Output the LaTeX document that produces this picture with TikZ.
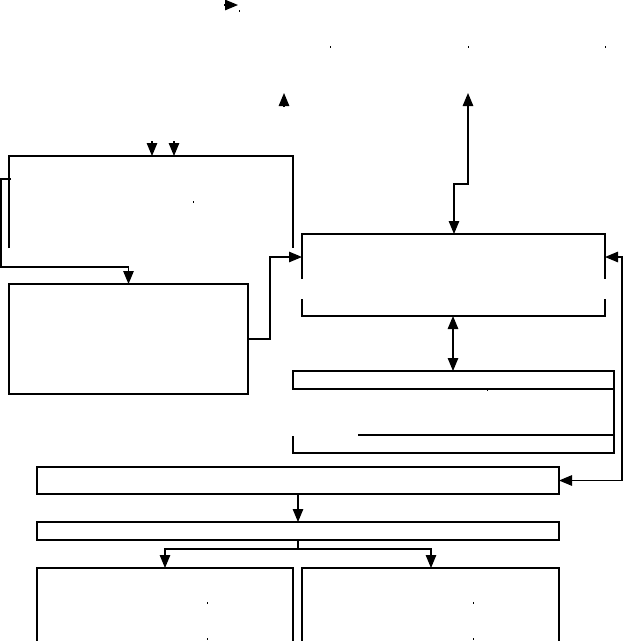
\documentclass[tikz,border=0pt]{standalone}
\usetikzlibrary{arrows.meta}
\begin{document}
\begin{tikzpicture}[x=1pt,y=-1pt,line width=1.2pt,
  >={Triangle[length=13pt,width=10.5pt]},
  box/.style={draw,rectangle,inner sep=0pt,outer sep=0pt,anchor=north west},
  speck/.style={fill=black}]
\useasboundingbox (0,0) rectangle (623,641);

% complete boxes
\node[box,minimum width=239pt,minimum height=110pt] (E) at (9,284) {};
\node[box,minimum width=321pt,minimum height=18pt] (J) at (293,371) {};
\node[box,minimum width=522pt,minimum height=27pt] (M) at (37,467) {};
\node[box,minimum width=522pt,minimum height=18pt] (O) at (37,522) {};

% partial box top left
\coordinate (Tnw) at (9,156); \coordinate (Tne) at (293,156);
\draw (9,248) -- (Tnw) -- (Tne) -- (293,248);

% partial box G
\coordinate (Gnw) at (302,234); \coordinate (Gne) at (605,234);
\coordinate (Gsw) at (302,316); \coordinate (Gse) at (605,316);
\coordinate (Gw) at (302,257); \coordinate (Ge) at (605,257);
\coordinate (Gn) at (454,234); \coordinate (Gs) at (453,316);
\draw (302,279) -- (Gnw) -- (Gne) -- (605,279);
\draw (302,299) -- (Gsw) -- (Gse) -- (605,299);

% partial box K below J
\draw (J.south east) -- (614,453) -- (293,453) -- (293,436);
\draw (358,435) -- (614,435);

% bottom boxes (open at the bottom)
\coordinate (Qn) at (165,568); \coordinate (Rn) at (431,568);
\draw (37,645) -- (37,568) -- (293,568) -- (293,645);
\draw (302,645) -- (302,568) -- (559,568) -- (559,645);

% connectors
\draw[->] (11,179) -- (1,179) -- (1,267) -| (E.north);
\draw[->] (E.east) -- ++(22,0) |- (Gw);
\draw[<->] (468,93) -- (468,184) -- (454,184) -- (Gn);
\draw[<->] (Gs) -- (Gs |- J.north);
\draw[<->] (Ge) -- (622,257) |- (M.east);
\draw[->] (M.south) -- (O.north);
\draw (O.south) -- ++(0,9) coordinate (split);
\draw[->] (split) -| (Qn);
\draw[->] (split) -| (Rn);

% lone arrowheads
\draw[->] (224,5) -- (238,5);
\draw[->] (284,107) -- (284,93);
\draw[->] (152,141) -- (152,156);
\draw[->] (174,141) -- (174,156);

% specks
\foreach \p/\q in {239/11,330/47,468/47,605/47,193/202,487/390,207/603,473/603,207/639,473/639}
  \fill[speck] (\p-0.5,\q-1) rectangle (\p+0.5,\q+1);
\end{tikzpicture}
\end{document}
